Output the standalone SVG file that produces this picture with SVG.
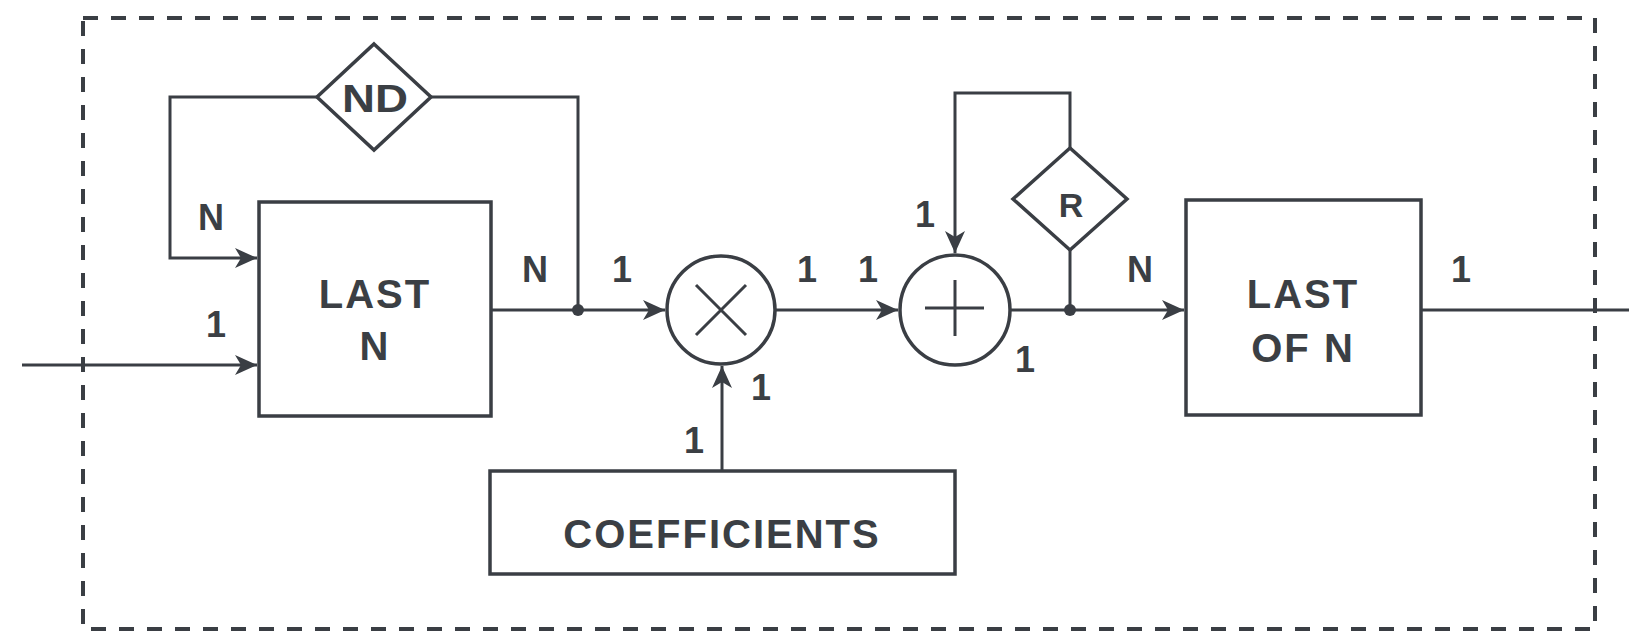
<svg xmlns="http://www.w3.org/2000/svg" width="1629" height="633" viewBox="0 0 1629 633">
<style>
.ln{fill:none;stroke:#3a3e44;stroke-width:3}
.bx{fill:#fff;stroke:#3a3e44;stroke-width:3.5}
.tx{font-family:"Liberation Sans",Arial,sans-serif;font-weight:bold;fill:#3b3f44;text-anchor:middle}
.big{font-size:40px;letter-spacing:2px}
.lab{font-size:36px}
.dot{fill:#3a3e44}
</style>
<defs>
<marker id="ah" markerUnits="userSpaceOnUse" markerWidth="24" markerHeight="20" refX="22" refY="10" orient="auto">
<path d="M0,0 L22,10 L0,20 L6,10 Z" fill="#3a3e44"/>
</marker>
</defs>
<rect x="0" y="0" width="1629" height="633" fill="#fff"/>
<rect id="boundary" x="83" y="18" width="1512" height="611" fill="none" stroke="#3a3e44" stroke-width="4" stroke-dasharray="15,13"/>
<g id="connectors">
<path class="ln" d="M22,365 H257" marker-end="url(#ah)"/>
<path class="ln" d="M578,310 V97 H431"/>
<path class="ln" d="M317,97 H170 V258 H257" marker-end="url(#ah)"/>
<path class="ln" d="M491,310 H665" marker-end="url(#ah)"/>
<path class="ln" d="M775,310 H898" marker-end="url(#ah)"/>
<path class="ln" d="M722,471 V366" marker-end="url(#ah)"/>
<path class="ln" d="M1010,310 H1184" marker-end="url(#ah)"/>
<path class="ln" d="M1070,310 V250"/>
<path class="ln" d="M1070,148 V93 H955 V253" marker-end="url(#ah)"/>
<path class="ln" d="M1421,310 H1629"/>
<circle class="dot" cx="578" cy="310" r="6"/>
<circle class="dot" cx="1070" cy="310" r="6"/>
</g>
<g id="lastN">
<rect class="bx" x="259" y="202" width="232" height="214"/>
<text class="tx big" x="375" y="308">LAST</text>
<text class="tx big" x="375" y="360">N</text>
</g>
<g id="nd">
<polygon class="bx" points="374,44 431,97 374,150 317,97"/>
<text class="tx" style="font-size:38px" x="375" y="112" textLength="66" lengthAdjust="spacingAndGlyphs">ND</text>
</g>
<g id="multiply">
<circle class="bx" cx="721" cy="310" r="54"/>
<path class="ln" d="M696,285 L746,335 M746,285 L696,335"/>
</g>
<g id="adder">
<circle class="bx" cx="955" cy="310" r="55"/>
<path class="ln" d="M925,308 H984 M955,280 V336"/>
</g>
<g id="r">
<polygon class="bx" points="1070,148 1127,199 1070,250 1013,199"/>
<text class="tx" style="font-size:34px" x="1071" y="217">R</text>
</g>
<g id="lastOfN">
<rect class="bx" x="1186" y="200" width="235" height="215"/>
<text class="tx big" x="1303" y="308">LAST</text>
<text class="tx big" x="1303" y="362">OF N</text>
</g>
<g id="coefficients">
<rect class="bx" x="490" y="471" width="465" height="103"/>
<text class="tx big" x="722" y="548">COEFFICIENTS</text>
</g>
<g id="labels">
<text class="tx lab" x="211" y="230">N</text>
<text class="tx lab" x="216" y="337">1</text>
<text class="tx lab" x="535" y="282">N</text>
<text class="tx lab" x="622" y="282">1</text>
<text class="tx lab" x="807" y="282">1</text>
<text class="tx lab" x="868" y="282">1</text>
<text class="tx lab" x="925" y="227">1</text>
<text class="tx lab" x="1140" y="282">N</text>
<text class="tx lab" x="1025" y="372">1</text>
<text class="tx lab" x="761" y="400">1</text>
<text class="tx lab" x="694" y="453">1</text>
<text class="tx lab" x="1461" y="282">1</text>
</g>
</svg>
